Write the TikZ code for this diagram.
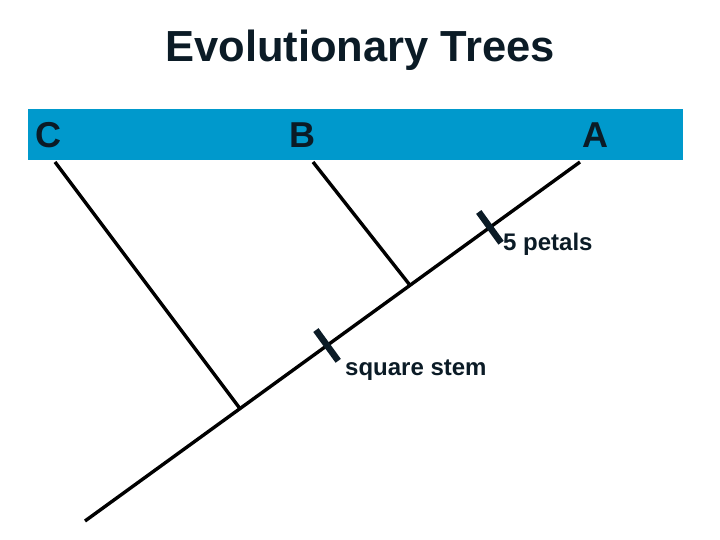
\documentclass[tikz,border=0pt]{standalone}
\usepackage{fontspec}
\setmainfont{Liberation Sans}
\usetikzlibrary{calc}
\definecolor{band}{HTML}{0099CC}
\definecolor{ink}{HTML}{0B1B26}
\begin{document}
\begin{tikzpicture}[x=1pt,y=-1pt,
  branch/.style={line width=3.4pt,draw=black},
  tickmark/.style={line width=6.5pt,draw=ink},
  lbl/.style={font=\bfseries\fontsize{36}{40}\selectfont,text=ink,inner sep=0pt,anchor=base},
  note/.style={font=\bfseries\fontsize{24}{28}\selectfont,text=ink,inner sep=0pt,anchor=base west}]
\useasboundingbox (0,0) rectangle (720,540);
\fill[band] (28,109) rectangle (683,160);
\node[font=\bfseries\fontsize{43.5}{48}\selectfont,text=ink,inner sep=0pt,anchor=base] (title) at (360,62) {Evolutionary Trees};
\node[lbl] (C) at (48,148) {C};
\node[lbl] (B) at (302,148) {B};
\node[lbl] (A) at (595,148) {A};
\coordinate (root) at (85,521);
\coordinate (tipA) at (580,162);
\coordinate (tipB) at (313,162);
\coordinate (tipC) at (55,162);
\coordinate (jC) at ($(root)!0.3131!(tipA)$);
\coordinate (jB) at ($(root)!0.6566!(tipA)$);
\coordinate (k1) at ($(root)!0.818!(tipA)$);
\coordinate (k2) at ($(root)!0.489!(tipA)$);
\draw[branch] (root) -- (tipA);
\draw[branch] (tipC) -- (jC);
\draw[branch] (tipB) -- (jB);
\draw[tickmark] ($(k1)!19pt!90:(tipA)$) -- ($(k1)!19pt!-90:(tipA)$);
\draw[tickmark] ($(k2)!19pt!90:(tipA)$) -- ($(k2)!19pt!-90:(tipA)$);
\node[note] (petals) at (503,250) {5 petals};
\node[note] (stem) at (345,375) {square stem};
\end{tikzpicture}
\end{document}
